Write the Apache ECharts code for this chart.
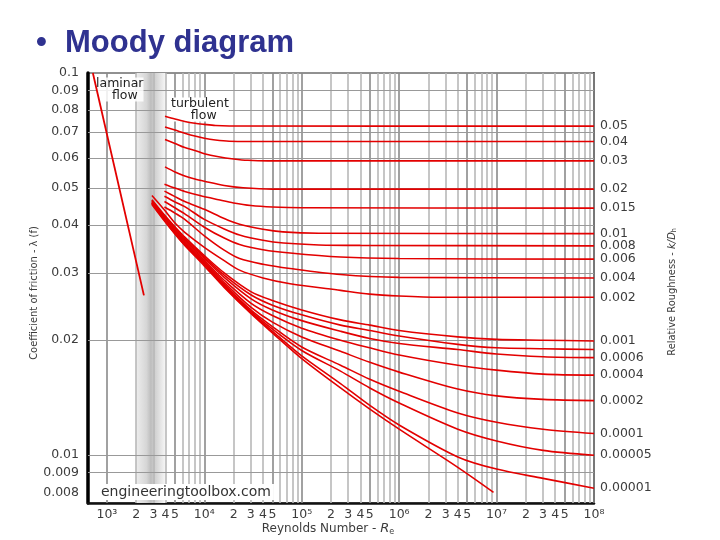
<!DOCTYPE html>
<html><head><meta charset="utf-8">
<script src="https://cdn.jsdelivr.net/npm/echarts@6/dist/echarts.min.js"></script>
<style>html,body{margin:0;padding:0;background:#fff}#c{width:720px;height:540px}</style>
</head><body><div id="c"></div>
<script>
// ---- data: [Reynolds number, friction factor] ----
const laminar = [[718, 0.1], [2400, 0.0262]];

const eps_0_05 = [[3950,0.0771],[5000,0.0758],[6300,0.0747],[8000,0.0739],[10000,0.0734],[13000,0.0729],[18000,0.0727],[1e8,0.0726]];
const eps_0_04 = [[3950,0.0722],[5000,0.0709],[6300,0.0696],[8000,0.0684],[10000,0.0675],[13000,0.0668],[18000,0.0663],[30000,0.0662],[1e8,0.0662]];
const eps_0_03 = [[3950,0.0670],[5000,0.0654],[6300,0.0638],[8000,0.0627],[10000,0.0615],[14000,0.0604],[20000,0.0596],[28000,0.0591],[45000,0.0589],[1e8,0.0589]];
const eps_0_02 = [[3950,0.0568],[5000,0.0551],[6300,0.0538],[8000,0.0528],[10000,0.0521],[16000,0.0508],[25000,0.0501],[50000,0.0497],[1e8,0.0497]];
const eps_0_015 = [[3900,0.0512],[5000,0.0500],[6300,0.0490],[9000,0.0478],[14000,0.0466],[20000,0.0457],[30000,0.0450],[50000,0.0446],[100000,0.0444],[1e8,0.0443]];
const eps_0_01 = [[3900,0.0491],[5000,0.0475],[6300,0.0461],[10000,0.0440],[16000,0.0416],[23000,0.0402],[40000,0.0390],[64000,0.0384],[150000,0.0381],[1e8,0.0380]];
const eps_0_008 = [[3900,0.0476],[5000,0.0460],[6300,0.0447],[10000,0.0414],[16000,0.0391],[23000,0.0377],[40000,0.0365],[65000,0.0359],[150000,0.0355],[400000,0.0354],[1e8,0.0353]];
const eps_0_006 = [[3900,0.0461],[5000,0.0444],[6300,0.0428],[10000,0.0395],[16000,0.0370],[23000,0.0356],[40000,0.0345],[76000,0.0338],[250000,0.0330],[1e6,0.0327],[1e8,0.0326]];
const eps_0_004 = [[3900,0.0446],[5000,0.0430],[6300,0.0414],[10000,0.0375],[16000,0.0344],[23000,0.0327],[40000,0.0316],[76000,0.0308],[250000,0.0297],[1e6,0.0292],[1e8,0.0291]];
const eps_0_002 = [[2900,0.0478],[3900,0.0438],[5000,0.0405],[6300,0.0383],[10000,0.0350],[16000,0.0323],[23000,0.0305],[40000,0.0291],[76000,0.0281],[250000,0.0270],[500000,0.0264],[1e6,0.0261],[2.6e6,0.0259],[1e8,0.0259]];
const eps_0_001 = [[2900,0.0466],[3900,0.0425],[5000,0.0396],[6300,0.0372],[10000,0.0333],[16000,0.0300],[30000,0.0268],[50000,0.0254],[100000,0.0240],[250000,0.0226],[500000,0.0219],[1e6,0.0212],[4e6,0.0204],[1e7,0.0201],[3e7,0.0200],[1e8,0.0199]];
const eps_0_0008 = [[2900,0.0464],[3900,0.0423],[5000,0.0393],[6300,0.0369],[10000,0.0330],[16000,0.0296],[30000,0.0263],[50000,0.0247],[100000,0.0233],[250000,0.0219],[500000,0.0212],[1e6,0.0205],[4e6,0.0195],[1e7,0.0191],[3e7,0.0190],[1e8,0.0189]];
const eps_0_0006 = [[2900,0.0462],[3900,0.0421],[5000,0.0390],[6300,0.0366],[10000,0.0327],[16000,0.0292],[30000,0.0257],[50000,0.0240],[100000,0.0225],[250000,0.0211],[500000,0.0202],[1e6,0.0196],[4e6,0.0189],[1e7,0.0184],[3e7,0.0181],[1e8,0.0180]];
const eps_0_0004 = [[2900,0.0460],[3900,0.0418],[5000,0.0387],[6300,0.0363],[10000,0.0323],[16000,0.0287],[30000,0.0250],[50000,0.0232],[100000,0.0215],[250000,0.0200],[500000,0.0191],[1e6,0.0183],[4e6,0.0172],[1e7,0.0167],[3e7,0.0163],[1e8,0.0162]];
const eps_0_0002 = [[2900,0.0458],[3900,0.0416],[5000,0.0385],[6300,0.0360],[10000,0.0320],[16000,0.0283],[30000,0.0244],[50000,0.0223],[100000,0.0204],[250000,0.0187],[500000,0.0175],[1e6,0.0165],[4e6,0.0149],[1e7,0.0143],[3e7,0.0140],[1e8,0.0139]];
const eps_0_0001 = [[2900,0.0457],[3900,0.0414],[5000,0.0383],[6300,0.0358],[10000,0.0318],[16000,0.0280],[30000,0.0240],[50000,0.0217],[100000,0.0192],[250000,0.0172],[500000,0.0158],[1e6,0.0147],[4e6,0.0129],[1e7,0.0122],[3e7,0.0117],[1e8,0.0114]];
const eps_0_00005 = [[2900,0.0456],[3900,0.0413],[5000,0.0382],[6300,0.0357],[10000,0.0317],[16000,0.0278],[30000,0.0238],[50000,0.0214],[100000,0.0188],[250000,0.0166],[500000,0.0150],[1e6,0.0137],[4e6,0.0117],[1e7,0.0109],[3e7,0.0103],[1e8,0.0100]];
const eps_0_00001 = [[2900,0.0455],[3900,0.0412],[5000,0.0380],[6300,0.0355],[10000,0.0316],[16000,0.0276],[30000,0.0236],[50000,0.0211],[100000,0.0182],[250000,0.0154],[500000,0.0135],[1e6,0.0120],[4e6,0.0099],[1e7,0.0092],[3e7,0.0087],[1e8,0.0082]];
const eps_smooth = [[2900,0.0453],[3900,0.0410],[5000,0.0379],[6300,0.0354],[10000,0.0313],[16000,0.0275],[30000,0.0235],[50000,0.0209],[100000,0.0179],[250000,0.0150],[500000,0.0132],[1e6,0.0117],[4e6,0.0093],[9.3e6,0.0080]];

const curveList = [eps_0_05, eps_0_04, eps_0_03, eps_0_02, eps_0_015, eps_0_01, eps_0_008, eps_0_006, eps_0_004,
  eps_0_002, eps_0_001, eps_0_0008, eps_0_0006, eps_0_0004, eps_0_0002, eps_0_0001, eps_0_00005, eps_0_00001, eps_smooth];
const curveLabels = ['0.05','0.04','0.03','0.02','0.015','0.01','0.008','0.006','0.004',
  '0.002','0.001','','0.0006','0.0004','0.0002','0.0001','0.00005','0.00001',''];

// ---- tick labels ----
const yTickValues = [0.1, 0.09, 0.08, 0.07, 0.06, 0.05, 0.04, 0.03, 0.02, 0.01, 0.009, 0.008];
const yTickLabels = ['0.1','0.09','0.08','0.07','0.06','0.05','0.04','0.03','0.02','0.01','0.009','0.008'];
const yGridShown  = [false, true, true, true, true, true, true, true, true, true, true, false];
const xDecades = [1e3, 1e4, 1e5, 1e6, 1e7, 1e8];
const xDecadeLabels = ['10³','10⁴','10⁵','10⁶','10⁷','10⁸'];
const xMultipliers = [1, 2, 3, 4, 5, 6, 7, 8, 9];
const xMultLabels = ['', '2', '3', '4', '5', '', '', '', ''];
const criticalZone = [2000, 4000];

const FONT = '"DejaVu Sans", "Liberation Sans", sans-serif';
const TFONT = '"Liberation Sans", Arial, sans-serif';
const NARROW = '"Liberation Sans Narrow", "DejaVu Sans Condensed", Arial, sans-serif';
const TXT = '#3c3c3c';

// vertical grid lines + labels
const xLines = [];
xDecades.forEach((d, i) => {
  xMultipliers.forEach((m, j) => {
    const v = d * m;
    if (v > 1e8) return;
    const lab = j === 0 ? xDecadeLabels[i] : xMultLabels[j];
    const dark = (j === 0 || m === 5);
    xLines.push({
      xAxis: v,
      lineStyle: { color: dark ? '#8a8a8a' : '#b8b8b8', width: 1.6, type: 'solid' },
      label: { show: lab !== '', formatter: lab, position: 'start', distance: 5, color: TXT, fontSize: 12.5, fontFamily: FONT }
    });
  });
});
const yLines = yTickValues.map((v, i) => ({
  yAxis: v,
  lineStyle: { color: yGridShown[i] ? '#999999' : 'rgba(0,0,0,0)', width: 1.2, type: 'solid' },
  label: { show: true, formatter: yTickLabels[i], position: 'start', distance: 9, color: TXT, fontSize: 12.5, fontFamily: FONT, opacity: 1 }
}));

const series = [{
  type: 'line', data: [], silent: true, z: 1,
  markArea: {
    silent: true, z: 1,
    itemStyle: {
      color: { type: 'linear', x: 0, y: 0, x2: 1, y2: 0, colorStops: [
        { offset: 0, color: '#ededed' }, { offset: 0.35, color: '#d6d6d6' },
        { offset: 0.5, color: '#bdbdbd' }, { offset: 0.6, color: '#cccccc' }, { offset: 1, color: '#f7f7f7' }] }
    },
    data: [[{ xAxis: criticalZone[0] }, { xAxis: criticalZone[1] }]]
  },
  markLine: { silent: true, symbol: ['none', 'none'], precision: 8, z: 2, animation: false, data: xLines.concat(yLines) }
}, {
  type: 'line', name: 'laminar', data: laminar, showSymbol: false, z: 5,
  lineStyle: { color: '#e30000', width: 1.8 }
}];
curveList.forEach((c, i) => {
  series.push({
    type: 'line', name: curveLabels[i] || ('c' + i), data: c, showSymbol: false, smooth: 0.3, z: 5,
    lineStyle: { color: '#e30000', width: 1.6 },
    endLabel: { show: curveLabels[i] !== '', formatter: curveLabels[i], distance: 6, color: TXT, fontSize: 12.5, fontFamily: FONT }
  });
});

const chart = echarts.init(document.getElementById('c'), null, { renderer: 'canvas' });
chart.setOption({
  animation: false,
  backgroundColor: '#ffffff',
  title: [
    { text: '•', left: 31, top: 23, textStyle: { fontSize: 31, fontWeight: 'bold', color: '#2f3290', fontFamily: TFONT } },
    { text: 'Moody diagram', left: 60, top: 23, textStyle: { fontSize: 31, fontWeight: 'bold', color: '#2f3290', fontFamily: TFONT } }
  ],
  grid: { left: 88, right: 126, top: 73, bottom: 37, show: true, borderColor: '#222', borderWidth: 1, backgroundColor: '#fff',
    containLabel: false, outerBoundsMode: 'none' },
  xAxis: {
    type: 'log', logBase: 10, min: 640, max: 1.00001e8,
    axisLine: { show: true, lineStyle: { color: '#111', width: 2.5 } },
    axisTick: { show: false }, axisLabel: { show: false }, splitLine: { show: false },
    name: 'Reynolds Number - {i|R}{s|e}', nameLocation: 'middle', nameGap: 19,
    nameTextStyle: { color: TXT, fontSize: 12, fontFamily: FONT, padding: [0, 26, 0, 0],
      rich: { i: { fontStyle: 'italic', fontSize: 13, color: TXT, fontFamily: FONT }, s: { fontSize: 8, color: TXT, padding: [6, 0, 0, 0], fontFamily: FONT } } }
  },
  yAxis: [{
    type: 'log', logBase: 10, min: 0.0075, max: 0.10001,
    axisLine: { show: true, lineStyle: { color: '#000', width: 3.5 } },
    axisTick: { show: false }, axisLabel: { show: false }, splitLine: { show: false },
    name: 'Coefficient of friction - λ (f)', nameLocation: 'middle', nameGap: 48, nameRotate: 90,
    nameTextStyle: { color: TXT, fontSize: 11, fontFamily: NARROW, padding: [0, 10, 0, 0] }
  }, {
    type: 'log', logBase: 10, min: 0.0075, max: 0.10001, position: 'right',
    axisLine: { show: true, lineStyle: { color: '#333', width: 2 } },
    axisTick: { show: false }, axisLabel: { show: false }, splitLine: { show: false },
    name: 'Relative Roughness - {i|k/D}{s|h}', nameLocation: 'middle', nameGap: 72, nameRotate: 90,
    nameTextStyle: { color: TXT, fontSize: 11, fontFamily: NARROW, padding: [0, 8, 0, 0],
      rich: { i: { fontStyle: 'italic', fontSize: 11, color: TXT, fontFamily: NARROW }, s: { fontSize: 7, color: TXT, padding: [5, 0, 0, 0] } } }
  }],
  graphic: [
    { type: 'text', left: 96, top: 77, z: 3, style: { text: 'laminar\n    flow', fill: '#222', font: '12.5px ' + FONT, lineHeight: 12, backgroundColor: 'rgba(255,255,255,0.85)' } },
    { type: 'text', left: 171, top: 97, z: 3, style: { text: 'turbulent\n     flow', fill: '#222', font: '12.5px ' + FONT, lineHeight: 12, backgroundColor: '#fff' } },
    { type: 'text', left: 98, top: 484, z: 3, style: { text: 'engineeringtoolbox.com', fill: '#333', font: '14px ' + FONT, backgroundColor: '#fff', padding: [1, 3, 1, 3] } }
  ],
  series: series
});
</script></body></html>
